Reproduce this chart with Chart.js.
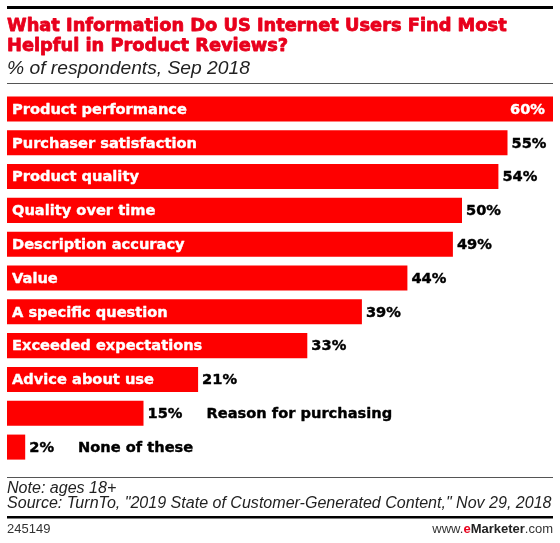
<!DOCTYPE html>
<html>
<head>
<meta charset="utf-8">
<script src="https://cdn.jsdelivr.net/npm/chart.js@4.4.0/dist/chart.umd.min.js"></script>
<style>
  body { margin: 0; background: #fff; }
  #wrap { position: relative; width: 560px; height: 543px; }
</style>
</head>
<body>
<div id="wrap"><canvas id="reviews-chart"></canvas></div>
<script>
  var categories = ['Product performance', 'Purchaser satisfaction', 'Product quality',
    'Quality over time', 'Description accuracy', 'Value', 'A specific question',
    'Exceeded expectations', 'Advice about use', 'Reason for purchasing', 'None of these'];
  var values = [60, 55, 54, 50, 49, 44, 39, 33, 21, 15, 2];

  var titleLines = ['What Information Do US Internet Users Find Most', 'Helpful in Product Reviews?'];
  var subtitle = '% of respondents, Sep 2018';
  var noteText = 'Note: ages 18+';
  var sourceText = 'Source: TurnTo, "2019 State of Customer-Generated Content," Nov 29, 2018';
  var chartId = '245149';

  var red = '#fe0000';
  var sans = '"Liberation Sans", Arial, sans-serif';
  var heavy = '"DejaVu Sans", sans-serif';

  // fit a font size so the text spans a given width
  function fitFont(ctx, text, style, family, width) {
    ctx.font = style + ' 20px ' + family;
    var size = 20 * width / ctx.measureText(text).width;
    return style + ' ' + size.toFixed(2) + 'px ' + family;
  }

  // fill + thin stroke to make the text look heavier
  function boldText(ctx, text, x, y, w) {
    ctx.lineWidth = w;
    ctx.strokeStyle = ctx.fillStyle;
    ctx.lineJoin = 'round';
    ctx.strokeText(text, x, y);
    ctx.fillText(text, x, y);
  }

  var decorPlugin = {
    id: 'decor',
    afterDraw: function (chart) {
      var ctx = chart.ctx;
      ctx.save();
      ctx.fillStyle = '#000';
      ctx.fillRect(7, 6, 546, 3);
      ctx.fillStyle = '#555';
      ctx.fillRect(7, 83, 546, 1);
      ctx.fillRect(7, 477, 546, 1);
      ctx.fillStyle = '#000';
      ctx.fillRect(7, 516, 546, 2.5);

      ctx.textBaseline = 'alphabetic';
      ctx.textAlign = 'left';
      ctx.fillStyle = '#e8001c';
      ctx.font = fitFont(ctx, titleLines[0], 'bold', heavy, 500);
      boldText(ctx, titleLines[0], 7, 31, 0.8);
      boldText(ctx, titleLines[1], 7, 51, 0.8);

      ctx.fillStyle = '#222';
      ctx.font = fitFont(ctx, subtitle, 'italic', sans, 243);
      ctx.fillText(subtitle, 7, 74);

      ctx.font = fitFont(ctx, sourceText, 'italic', sans, 545);
      ctx.fillText(noteText, 7, 493);
      ctx.fillText(sourceText, 7, 508);

      ctx.fillStyle = '#333';
      ctx.font = '13px ' + sans;
      ctx.fillText(chartId, 7, 533);

      // www.eMarketer.com, right aligned
      var parts = [
        ['www.', '13px ' + sans, '#333'],
        ['e', 'bold 13px ' + sans, '#e8001c'],
        ['Marketer', 'bold 13px ' + sans, '#222'],
        ['.com', '13px ' + sans, '#333']
      ];
      var total = 0;
      parts.forEach(function (p) { ctx.font = p[1]; total += ctx.measureText(p[0]).width; });
      var x = 553 - total;
      parts.forEach(function (p) {
        ctx.font = p[1];
        ctx.fillStyle = p[2];
        ctx.fillText(p[0], x, 533);
        x += ctx.measureText(p[0]).width;
      });
      ctx.restore();
    },
    afterDatasetsDraw: function (chart) {
      var ctx = chart.ctx;
      var meta = chart.getDatasetMeta(0);
      var area = chart.chartArea;
      ctx.save();
      ctx.font = fitFont(ctx, categories[0], 'bold', heavy, 175);
      ctx.textBaseline = 'middle';
      meta.data.forEach(function (bar, i) {
        var name = categories[i];
        var val = values[i] + '%';
        var nameW = ctx.measureText(name).width;
        var valW = ctx.measureText(val).width;
        var left = bar.base;
        var right = bar.x;
        var y = bar.y + 1;
        var nameInside = nameW + 12 < right - left;
        if (nameInside) {
          ctx.fillStyle = '#fff';
          ctx.textAlign = 'left';
          boldText(ctx, name, left + 5, y, 0.4);
        }
        var vx;
        if (right + 4 + valW > area.right) {
          ctx.fillStyle = '#fff';
          ctx.textAlign = 'right';
          boldText(ctx, val, right - 8, y, 0.4);
        } else {
          ctx.fillStyle = '#000';
          ctx.textAlign = 'left';
          vx = right + 4;
          boldText(ctx, val, vx, y, 0.4);
          if (!nameInside) {
            boldText(ctx, name, vx + valW + 24, y, 0.4);
          }
        }
      });
      ctx.restore();
    }
  };

  var ctx = document.getElementById('reviews-chart').getContext('2d');
  var reviewsChart = new Chart(ctx, {
    type: 'bar',
    data: {
      labels: categories,
      datasets: [{
        data: values,
        backgroundColor: red,
        categoryPercentage: 1,
        barPercentage: 0.74
      }]
    },
    options: {
      indexAxis: 'y',
      responsive: true,
      maintainAspectRatio: false,
      animation: false,
      layout: { padding: { left: 7, right: 7, top: 92, bottom: 79 } },
      scales: {
        x: { display: false, min: 0, max: 60 },
        y: { display: false }
      },
      plugins: {
        legend: { display: false },
        tooltip: { enabled: false }
      }
    },
    plugins: [decorPlugin]
  });
</script>
</body>
</html>
